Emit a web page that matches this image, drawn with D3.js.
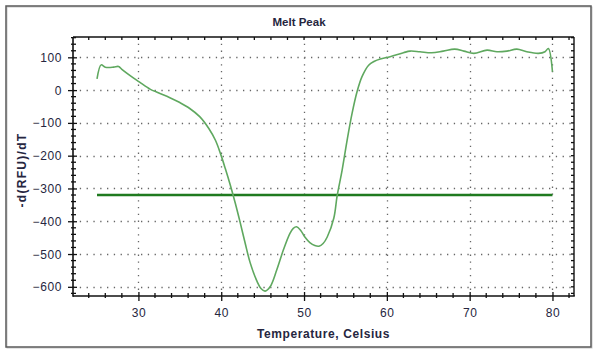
<!DOCTYPE html>
<html>
<head>
<meta charset="utf-8">
<script src="https://cdn.jsdelivr.net/npm/d3@7"></script>
<style>
  html, body { margin: 0; padding: 0; background: #fff; }
  svg { display: block; }
  text { font-family: "Liberation Sans", Arial, sans-serif; fill: #262640; }
</style>
</head>
<body>
<svg id="chart" width="600" height="358"></svg>
<script>
// ---- data ----
const temperature = [25.0, 25.5, 26.0, 27.0, 27.6, 28.0, 29.0, 30.1, 31.4, 32.4, 33.8, 35.0, 36.2, 37.4, 38.5, 39.3, 39.9, 40.5, 41.1, 41.7, 42.3, 42.9, 43.5, 44.3, 44.8, 45.3, 45.9, 46.7, 47.5, 48.3, 48.7, 49.1, 49.6, 50.1, 50.7, 51.3, 51.8, 52.3, 52.8, 53.6, 54.0, 54.6, 55.2, 55.8, 56.4, 57.0, 57.8, 58.5, 59.2, 60.4, 62.0, 62.8, 64.0, 65.4, 66.8, 68.2, 69.3, 70.5, 72.1, 73.3, 74.5, 75.7, 76.9, 78.3, 79.1, 79.5, 80.0];
const dRFU = [34, 77, 70, 70, 72, 63, 44, 25, 3, -8, -23, -38, -56, -81, -117, -153, -193, -240, -290, -345, -405, -468, -527, -582, -605, -613, -600, -549, -488, -437, -422, -417, -428, -448, -465, -474, -476, -468, -448, -390, -322, -244, -153, -71, -5, 41, 76, 88, 95, 102, 114, 119, 117, 114, 119, 125, 119, 112, 122, 117, 119, 125, 117, 112, 117, 127, 56];
const threshold = -320;
const thresholdRange = [25.0, 80.0];
const xTicks = [30, 40, 50, 60, 70, 80];
const yTicks = [100, 0, -100, -200, -300, -400, -500, -600];
const xDomain = [22.1, 82.6];
const yDomain = [-628, 162];
const chartTitle = "Melt Peak";
const xTitle = "Temperature, Celsius";
const yTitle = "-d(RFU)/dT";

// ---- layout ----
const svg = d3.select("#chart");
const L = 73, R = 574, T = 37, B = 296;
const x = d3.scaleLinear().domain(xDomain).range([L, R]);
const y = d3.scaleLinear().domain(yDomain).range([B, T]);

// outer frame
svg.append("rect").attr("x", 7).attr("y", 7).attr("width", 585).attr("height", 341)
  .attr("fill", "none").attr("stroke", "#c8c8c8").attr("stroke-width", 1);
svg.append("rect").attr("x", 6).attr("y", 6).attr("width", 585).attr("height", 341)
  .attr("fill", "none").attr("stroke", "#5a5a5a").attr("stroke-width", 1.5);

// grid (dotted)
const grid = svg.append("g").attr("stroke", "#666").attr("stroke-width", 1.3)
  .attr("stroke-dasharray", "1.3,5.5");
grid.selectAll(".gx").data(xTicks).join("line")
  .attr("x1", d => Math.round(x(d)) + 0.5).attr("x2", d => Math.round(x(d)) + 0.5)
  .attr("y1", T).attr("y2", B);
grid.selectAll(".gy").data(yTicks).join("line")
  .attr("y1", d => Math.round(y(d)) + 0.5).attr("y2", d => Math.round(y(d)) + 0.5)
  .attr("x1", L).attr("x2", R);

// minor ticks
const xMinor = d3.range(24, 83, 2).filter(v => !xTicks.includes(v) && v >= xDomain[0] && v <= xDomain[1]);
const yMinor = d3.range(-620, 161, 20).filter(v => !yTicks.includes(v));
const tk = svg.append("g").attr("stroke", "#111").attr("stroke-width", 1.3);
tk.selectAll(".bm").data(xMinor).join("line")
  .attr("x1", d => x(d)).attr("x2", d => x(d)).attr("y1", B - 3).attr("y2", B + 2);
tk.selectAll(".tm").data(xMinor.concat(xTicks)).join("line")
  .attr("x1", d => x(d)).attr("x2", d => x(d)).attr("y1", T).attr("y2", T + 3);
tk.selectAll(".lm").data(yMinor).join("line")
  .attr("y1", d => y(d)).attr("y2", d => y(d)).attr("x1", L - 2).attr("x2", L + 3);
tk.selectAll(".rm").data(yMinor.concat(yTicks)).join("line")
  .attr("y1", d => y(d)).attr("y2", d => y(d)).attr("x1", R - 3).attr("x2", R);

// major axes via d3
const xAxis = svg.append("g").attr("transform", `translate(0,${B})`)
  .call(d3.axisBottom(x).tickValues(xTicks).tickSize(5).tickPadding(7).tickFormat(d3.format("d")));
const yAxis = svg.append("g").attr("transform", `translate(${L},0)`)
  .call(d3.axisLeft(y).tickValues(yTicks).tickSize(5).tickPadding(6).tickFormat(d3.format("d")));
[xAxis, yAxis].forEach(a => {
  a.select(".domain").remove();
  a.selectAll(".tick line").attr("stroke", "#111").attr("stroke-width", 1.3);
  a.selectAll(".tick text").style("font-family", "'Liberation Sans', Arial, sans-serif")
    .style("font-size", "12px").style("letter-spacing", "0.6px").attr("fill", "#262640");
});
xAxis.selectAll(".tick line").attr("y1", -4);
yAxis.selectAll(".tick line").attr("x1", 4);
xAxis.selectAll(".tick text").attr("dy", "0.71em").attr("y", 12);
yAxis.selectAll(".tick text").attr("dy", "0.34em");

// axis frame lines
svg.append("line").attr("x1", L).attr("x2", L).attr("y1", T).attr("y2", B + 0.8)
  .attr("stroke", "#111").attr("stroke-width", 1.6);
svg.append("line").attr("x1", L).attr("x2", R + 0.8).attr("y1", B).attr("y2", B)
  .attr("stroke", "#111").attr("stroke-width", 1.6);
svg.append("line").attr("x1", L).attr("x2", R).attr("y1", T).attr("y2", T)
  .attr("stroke", "#111").attr("stroke-width", 1.4);
svg.append("line").attr("x1", R).attr("x2", R).attr("y1", T).attr("y2", B)
  .attr("stroke", "#111").attr("stroke-width", 1.4);

// threshold line
svg.append("line")
  .attr("x1", x(thresholdRange[0])).attr("x2", x(thresholdRange[1]))
  .attr("y1", y(threshold)).attr("y2", y(threshold))
  .attr("stroke", "#1f7a1f").attr("stroke-width", 2.6);

// melt curve
const pts = temperature.map((t, i) => [t, dRFU[i]]);
svg.append("path").datum(pts)
  .attr("fill", "none").attr("stroke", "#5fa85f").attr("stroke-width", 1.6)
  .attr("d", d3.line().x(d => x(d[0])).y(d => y(d[1])).curve(d3.curveCatmullRom.alpha(0.5)));

// titles
svg.append("text").attr("x", 299).attr("y", 26).attr("text-anchor", "middle")
  .style("font-size", "11.5px").style("font-weight", "bold").attr("fill", "#1a1a2a").text(chartTitle);
svg.append("text").attr("x", (L + R) / 2).attr("y", 338).attr("text-anchor", "middle")
  .style("font-size", "12px").style("font-weight", "bold").style("letter-spacing", "0.6px")
  .attr("fill", "#1a1a2a").text(xTitle);
svg.append("text").attr("transform", `translate(26,170) rotate(-90)`).attr("text-anchor", "middle")
  .style("font-size", "12px").style("font-weight", "bold").style("letter-spacing", "1.3px")
  .attr("fill", "#1a1a2a").text(yTitle);
</script>
</body>
</html>
